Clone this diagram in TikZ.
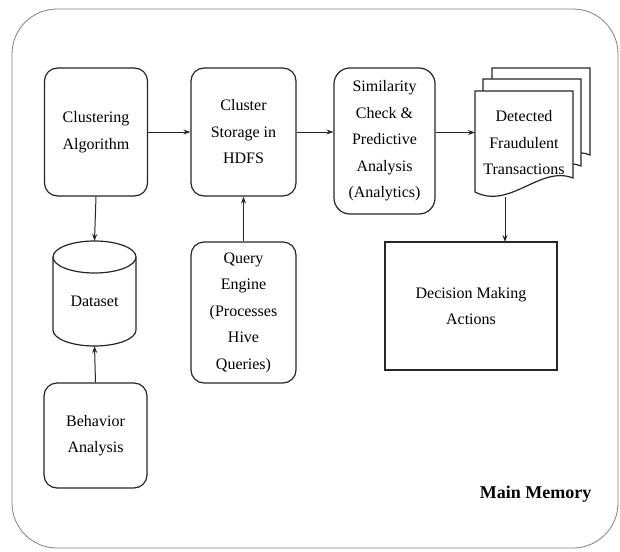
\documentclass[tikz,border=0pt]{standalone}
\usepackage{fontspec}
\setmainfont{Liberation Serif}
\usetikzlibrary{arrows.meta}
\begin{document}
\begin{tikzpicture}[x=1pt,y=-1pt,
  txt/.style={font=\fontsize{16}{26.5}\selectfont},
  box/.style={draw=black!85, line width=1.2pt, rounded corners=13pt, align=center, txt, inner sep=0pt},
  lbl/.style={align=center, txt, inner sep=0pt},
  shp/.style={draw=black!85, line width=1.2pt},
  arr/.style={-{Stealth[length=7pt,width=5pt]}, line width=1pt, draw=black!85}]
\useasboundingbox (0,0) rectangle (620,551);
% outer frame
\draw[black!50, line width=0.8pt, rounded corners=45pt] (12,9) rectangle (618,548);
% boxes
\node[box, minimum width=103pt, minimum height=128pt] (clu) at (96,132) {Clustering\\Algorithm};
\node[box, minimum width=105pt, minimum height=128pt] (sto) at (243.5,132) {Cluster\\Storage in\\HDFS};
\node[box, rounded corners=16pt, minimum width=101pt, minimum height=146pt] (sim) at (384.5,141) {Similarity\\Check \&\\Predictive\\Analysis\\(Analytics)};
\node[box, minimum width=105pt, minimum height=141pt] (qry) at (243.5,312.5) {Query\\Engine\\(Processes\\Hive\\Queries)};
\node[box, minimum width=103pt, minimum height=105pt] (beh) at (95.5,435.5) {Behavior\\Analysis};
\node[draw=black!85, line width=1.1pt, align=center, txt, inner sep=0pt, minimum width=172pt, minimum height=128pt] (dec) at (471,306) {Decision Making\\Actions};
% cylinder
\draw[shp] (53,257) -- (53,330) arc[start angle=180, end angle=360, x radius=41.5pt, y radius=16pt] -- (136,257);
\draw[shp] (94.5,257) ellipse [x radius=41.5pt, y radius=16pt];
\node[lbl] (dat) at (94.5,301) {Dataset};
\coordinate (dattop) at (94.5,241);
\coordinate (datbot) at (94.5,346);
% document stack
\foreach \dx/\dy in {17/-23, 8/-12, 0/0}{
  \draw[shp, fill=white, shift={(\dx,\dy)}] (475,91) -- (573,91) -- (573,178) .. controls (540,165) and (510,210) .. (475,192) -- cycle;
}
\node[lbl] (det) at (524,143) {Detected\\Fraudulent\\Transactions};
\coordinate (detin) at (475,132.5);
\coordinate (detout) at (505,196.5);
\coordinate (decin) at (505,242);
% arrows
\draw[arr] (clu.east |- 0,132) -- (sto.west |- 0,132);
\draw[arr] (sto.east |- 0,132) -- (sim.west |- 0,132);
\draw[arr] (sim.east |- 0,132.5) -- (detin);
\draw[arr] (clu.south) -- (dattop);
\draw[arr] (beh.north) -- (datbot);
\draw[arr] (qry.north) -- (sto.south);
\draw[arr] (detout) -- (decin);
% label
\node[font=\fontsize{18}{20}\selectfont\bfseries, inner sep=0pt] (mm) at (535.5,494) {Main Memory};
\end{tikzpicture}
\end{document}
